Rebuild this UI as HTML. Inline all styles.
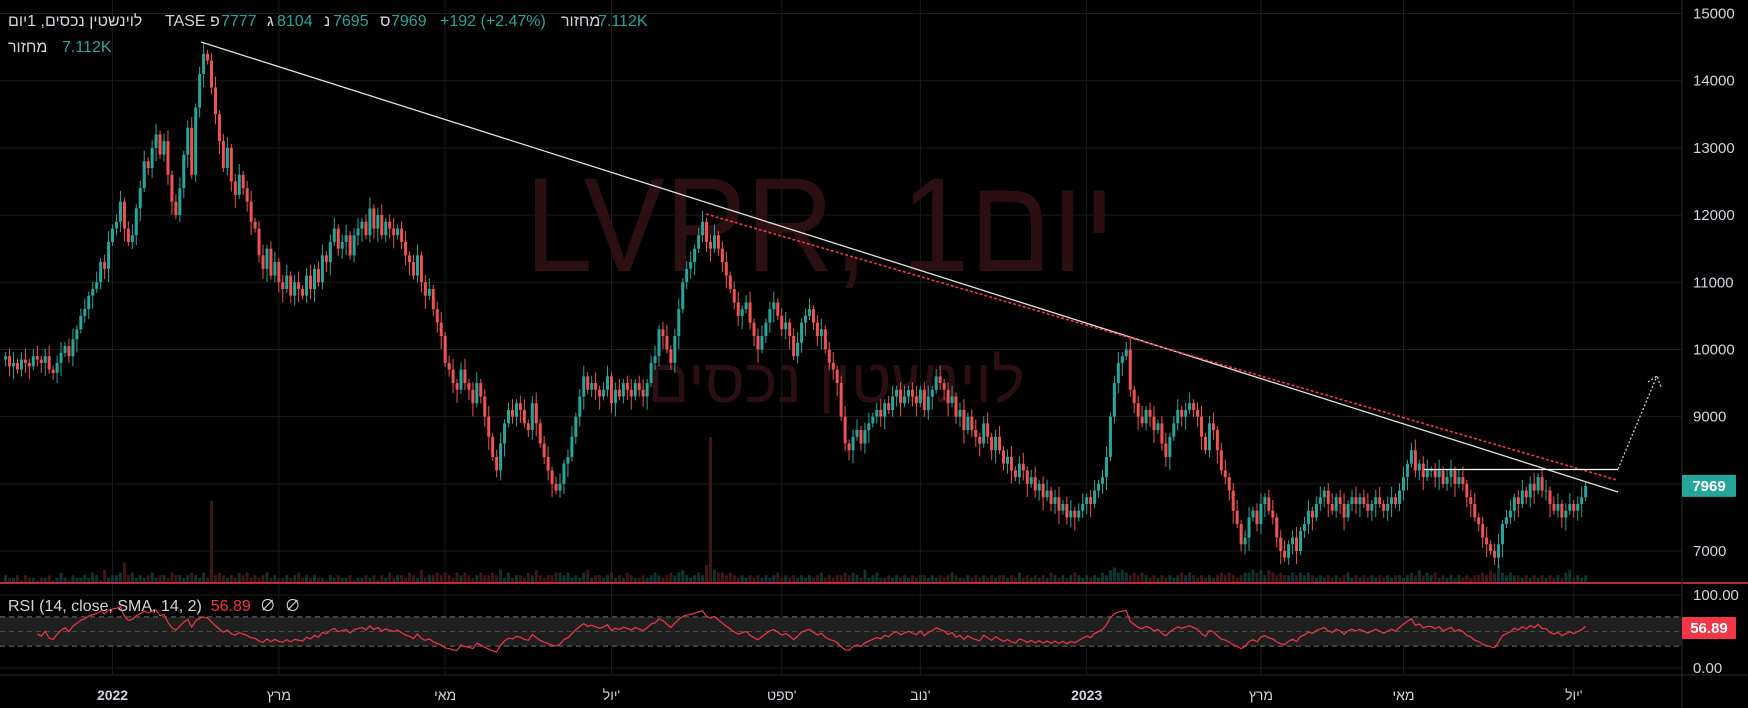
<!DOCTYPE html>
<html><head><meta charset="utf-8">
<style>
html,body{margin:0;padding:0;background:#000;width:1748px;height:708px;overflow:hidden;font-family:"Liberation Sans","Noto Sans CJK JP","DejaVu Sans",sans-serif;}
#wrap{position:relative;width:1748px;height:708px;}
svg{position:absolute;left:0;top:0;}
.lg{position:absolute;font-size:16px;color:#d1d4dc;white-space:nowrap;line-height:18px;unicode-bidi:isolate;}
.tl{color:#26a69a}
</style></head><body>
<div id="wrap">
<svg id="chart" width="1748" height="708"></svg>
<div class="lg" style="left:8px;top:13px;direction:rtl;">לוינשטין נכסים, 1יום</div>
<div class="lg" style="left:165px;top:13px;">TASE</div>
<div class="lg" style="left:210px;top:13px;">פ</div>
<div class="lg tl" style="left:221px;top:13px;">7777</div>
<div class="lg" style="left:267px;top:13px;">ג</div>
<div class="lg tl" style="left:277px;top:13px;">8104</div>
<div class="lg" style="left:324px;top:13px;">נ</div>
<div class="lg tl" style="left:333px;top:13px;">7695</div>
<div class="lg" style="left:380px;top:13px;">ס</div>
<div class="lg tl" style="left:391px;top:13px;">7969</div>
<div class="lg tl" style="left:440px;top:13px;">+192 (+2.47%)</div>
<div class="lg" style="left:561px;top:13px;direction:rtl;">מחזור</div>
<div class="lg tl" style="left:598px;top:13px;">7.112K</div>
<div class="lg" style="left:8px;top:39px;direction:rtl;">מחזור</div>
<div class="lg tl" style="left:62px;top:39px;">7.112K</div>
<div class="lg" style="left:8px;top:598px;">RSI (14, close, SMA, 14, 2)&nbsp;&nbsp;<span style="color:#f23645">56.89</span>&nbsp;&nbsp;∅&nbsp;&nbsp;∅</div>
</div>
<script>
const closes=[
9900,9750,9800,9700,9850,9800,9750,9900,9850,9800,
9900,9700,9650,9800,9950,10050,9900,10150,10300,10500,
10600,10800,10900,11000,11300,11200,11600,11800,11900,12200,
11800,11600,11700,12100,12400,12800,12700,13000,13200,12900,
13100,12600,12200,12000,12400,12900,13300,12600,13600,14100,
14400,14300,13900,13500,13100,12700,13000,12500,12300,12600,
12400,12200,11900,11800,11400,11200,11500,11100,11300,11000,
10900,11100,10800,11000,10900,10800,11100,10900,11200,11000,
11400,11300,11600,11800,11500,11600,11700,11400,11700,11800,
11900,11700,12100,11800,12000,11700,11900,11800,11700,11800,
11600,11400,11300,11100,11400,11000,10800,10900,10600,10400,
10200,9800,9700,9500,9400,9700,9500,9400,9200,9500,
9300,9000,8700,8400,8200,8600,8900,9100,9000,9200,
9100,8900,8800,9200,8900,8600,8400,8200,8000,7900,
8000,8300,8400,8700,9000,9300,9600,9400,9500,9400,
9300,9400,9600,9200,9400,9300,9500,9400,9300,9500,
9400,9300,9500,9800,9900,10300,10200,10000,9800,10200,
10600,11000,11200,11300,11500,11700,11900,11600,11500,11700,
11500,11300,11100,10900,10700,10500,10600,10700,10400,10200,
10000,10200,10400,10600,10700,10500,10300,10400,10200,9900,
10100,10400,10500,10600,10400,10200,10300,10000,9800,9700,
9500,9000,8600,8500,8700,8800,8600,8800,8900,9000,
9100,9000,9200,9100,9300,9400,9200,9300,9400,9300,
9200,9400,9100,9300,9400,9600,9500,9400,9200,9300,
9000,9100,8800,9000,8800,8700,8600,8900,8700,8500,
8700,8500,8300,8400,8200,8100,8300,8200,8000,8100,
7900,8000,7800,7900,7700,7800,7600,7700,7500,7600,
7500,7600,7700,7800,7700,7900,8000,8100,8400,9000,
9500,9800,9900,10000,9400,9200,9000,8900,9100,9000,
8800,8900,8600,8400,8700,8900,9100,9000,9100,9200,
9100,9000,8700,8500,8900,8800,8500,8200,8100,7900,
7600,7400,7100,7200,7500,7600,7400,7700,7800,7600,
7500,7200,7000,6900,7100,7200,7000,7300,7400,7600,
7500,7700,7800,7900,7700,7600,7800,7700,7500,7700,
7800,7700,7800,7700,7600,7700,7800,7700,7600,7700,
7800,7700,7900,8100,8300,8500,8200,8300,8100,8200,
8200,8100,8200,8000,8100,8200,8000,8100,8000,7800,
7700,7500,7400,7200,7100,7000,6900,7100,7400,7500,
7600,7800,7700,7900,7800,8000,7900,8100,7900,7900,
7700,7600,7700,7500,7600,7700,7600,7700,7800,7969];
const firstOpen=9850;
const volumes=("3223132212231242132232431523348342323423324332343242I3432324342323423223234232322132322312"+
"2323132423324325233434324343234334352423324353233443423245233234232432232343234345323437W54"+
"4343232323232342323232323423233434325234223232323233232323432232323232332324232323243232343"+
"2323243564543434323232323434323232343432344545354343343434323232323423232323232332343534342"+
"3232323233435474343323232323232452323240").split("").map(c=>parseInt(c,36));
const priceTicks=[15000,14000,13000,12000,11000,10000,9000,8000,7000];
const priceTickLabels=["15000","14000","13000","12000","11000","10000","9000","","7000"];
const rsiTicks=[100,0];
const rsiTickLabels=["100.00","0.00"];
const timeTickIdx=[27,69,111,153,196,231,273,317,353,396];
const timeTickLabels=["2022","מרץ","מאי","יול'","ספט'","נוב'","2023","מרץ","מאי","יול'"];
const lastClose=7969, lastRsi="56.89";

const NS="http://www.w3.org/2000/svg";
const svg=document.getElementById('chart');
const X0=5.6, DX=3.96;
const xOf=i=>X0+i*DX;
const yOf=p=>13.5+(15000-p)*0.06719;
const yRsi=v=>668-v*0.73;
const PLOTR=1682;
function mk(tag,attrs,parent){const e=document.createElementNS(NS,tag);for(const k in attrs)e.setAttribute(k,attrs[k]);(parent||svg).appendChild(e);return e;}

const grid=mk('g',{});


priceTicks.forEach(p=>{mk('line',{x1:0,x2:PLOTR,y1:yOf(p),y2:yOf(p),stroke:'#1c1c1c','stroke-width':1},grid);});
rsiTicks.forEach(v=>{mk('line',{x1:0,x2:PLOTR,y1:yRsi(v),y2:yRsi(v),stroke:'#1c1c1c','stroke-width':1},grid);});
timeTickIdx.forEach(i=>{mk('line',{x1:xOf(i),x2:xOf(i),y1:0,y2:675,stroke:'#1c1c1c','stroke-width':1},grid);});

const wm=mk('text',{x:820,y:271,'font-size':134,fill:'#2b0f12','text-anchor':'middle',textLength:590,lengthAdjust:'spacingAndGlyphs','font-family':'"Liberation Sans","Noto Sans CJK JP",sans-serif'});
wm.textContent='LVPR, 1יום';


const wm2=mk('text',{x:836,y:402,'font-size':62,fill:'#2b0f12','text-anchor':'middle','font-family':'"Liberation Sans","Noto Sans CJK JP",sans-serif'});
wm2.textContent='לוינשטין נכסים';



const vg=mk('g',{});


const vmaxH=146, vmax=32;
closes.forEach((c,i)=>{
  const o=i?closes[i-1]:firstOpen;
  const v=(volumes[i]||1);
  const h=v>9?v/vmax*vmaxH:v*2.6;
  const r=mk('rect',{x:xOf(i)-1.5,y:583-h,width:3,height:h,fill:c>=o?'#0c3632':'#3f1718'},vg);
  
  
});

const cg=mk('g',{});


closes.forEach((c,i)=>{
  const o=i?closes[i-1]:firstOpen;
  const up=c>=o, col=up?'#26a69a':'#ef5350';
  const hi=Math.max(o,c)+60+(i%3)*50, lo=Math.min(o,c)-60-((i+1)%4)*45;
  const g=mk('g',{},cg);
  
  
  mk('line',{x1:xOf(i),x2:xOf(i),y1:yOf(hi),y2:yOf(lo),stroke:col,'stroke-width':1},g);
  const yt=yOf(Math.max(o,c)), yb=yOf(Math.min(o,c));
  mk('rect',{x:xOf(i)-1.5,y:yt,width:3,height:Math.max(1,yb-yt),fill:col},g);
});

const dg=mk('g',{});


const l1=mk('line',{x1:201,y1:42,x2:1618,y2:492,stroke:'#e0e0e0','stroke-width':1.3},dg);


const l2=mk('line',{x1:706,y1:214,x2:1617,y2:480,stroke:'#f23645','stroke-width':1.6,'stroke-dasharray':'3,2'},dg);


const l3=mk('line',{x1:1424,y1:469.5,x2:1618,y2:469.5,stroke:'#ffffff','stroke-width':1.3},dg);


const l4=mk('path',{d:'M1618 469 L1657 376 M1648 382 L1657 376 L1661 387',stroke:'#cfcfcf','stroke-width':1.3,fill:'none','stroke-dasharray':'2,2'},dg);



const sep=mk('line',{x1:0,x2:1748,y1:583,y2:583,stroke:'#f23645','stroke-width':1.5});


mk('line',{x1:0,x2:1748,y1:675,y2:675,stroke:'#2a2a2a','stroke-width':1});
mk('line',{x1:PLOTR,x2:PLOTR,y1:0,y2:708,stroke:'#2a2a2a','stroke-width':1});

const band=mk('rect',{x:0,y:yRsi(70),width:PLOTR,height:yRsi(30)-yRsi(70),fill:'#1f1f1f'});


[70,50,30].forEach(v=>{mk('line',{x1:0,x2:PLOTR,y1:yRsi(v),y2:yRsi(v),stroke:v==50?'#4a4a4a':'#6a6d78','stroke-width':1,'stroke-dasharray':'5,4'});});

let ag=0,al=0;const rsi=[];
for(let i=1;i<closes.length;i++){
  const d=closes[i]-closes[i-1];const g=Math.max(d,0),l=Math.max(-d,0);
  const n=Math.min(i,14);
  ag=(ag*(n-1)+g)/n; al=(al*(n-1)+l)/n;
  if(i>=8) rsi.push([i, al===0?100:100-100/(1+ag/al)]);
}
const rp=mk('polyline',{points:rsi.map(([i,v])=>xOf(i)+','+yRsi(v)).join(' '),fill:'none',stroke:'#f23645','stroke-width':1.2});



const ax=mk('g',{'font-size':15,fill:'#d1d4dc','font-family':'"Liberation Sans",sans-serif'});


priceTicks.forEach((p,k)=>{const t=mk('text',{x:1693,y:yOf(p)+5},ax);t.textContent=priceTickLabels[k];
  
  });
rsiTicks.forEach((v,k)=>{const t=mk('text',{x:1693,y:yRsi(v)+5},ax);t.textContent=rsiTickLabels[k];
  
  });
const ta=mk('g',{'font-size':14,fill:'#d1d4dc','text-anchor':'middle','font-family':'"Liberation Sans","Noto Sans CJK JP",sans-serif'});


timeTickIdx.forEach((i,k)=>{const t=mk('text',{x:xOf(i),y:700,'font-weight':/^\d+$/.test(timeTickLabels[k])?'bold':'normal'},ta);t.textContent='\u200E'+timeTickLabels[k]+'\u200E';
  
  });

const pl=mk('g',{});


mk('rect',{x:1682,y:yOf(lastClose)-11,width:54,height:22,fill:'#26a69a',rx:1},pl);
const plt=mk('text',{x:1709,y:yOf(lastClose)+5,'font-size':15,'font-weight':'bold',fill:'#fff','text-anchor':'middle','font-family':'"Liberation Sans",sans-serif'},pl);
plt.textContent=lastClose;
const rl=mk('g',{});


mk('rect',{x:1682,y:617,width:54,height:22,fill:'#f23645',rx:1},rl);
const rlt=mk('text',{x:1709,y:633,'font-size':15,'font-weight':'bold',fill:'#fff','text-anchor':'middle','font-family':'"Liberation Sans",sans-serif'},rl);
rlt.textContent=lastRsi;
</script>
</body></html>
